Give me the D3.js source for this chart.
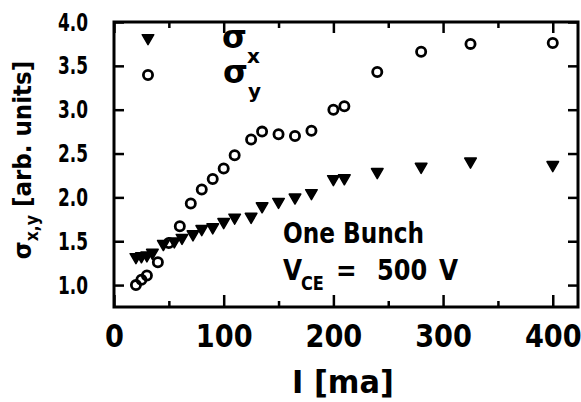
<!DOCTYPE html>
<html>
<head>
<meta charset="utf-8">
<script src="https://cdn.jsdelivr.net/npm/d3@7"></script>
<style>
body { margin: 0; background: #fff; }
svg text { font-family: "DejaVu Sans", sans-serif; font-weight: bold; fill: #000; }
</style>
</head>
<body>
<svg id="chart" width="581" height="402"></svg>
<script>
// current I [ma] and beam size sigma_x (triangles) / sigma_y (circles)
var sigmaXCurrent = [20, 25, 30, 35, 45, 55, 62, 72, 80, 90, 100, 110, 125, 135, 150, 165, 180, 200, 210, 240, 280, 325, 400];
var sigmaXValues  = [1.32, 1.33, 1.34, 1.37, 1.47, 1.50, 1.54, 1.58, 1.64, 1.66, 1.72, 1.77, 1.78, 1.90, 1.95, 2.00, 2.05, 2.21, 2.22, 2.29, 2.35, 2.41, 2.37];

var sigmaYCurrent = [20, 25, 30, 40, 50, 60, 70, 80, 90, 100, 110, 125, 135, 150, 165, 180, 200, 210, 240, 280, 325, 400];
var sigmaYValues  = [1.00, 1.06, 1.11, 1.26, 1.48, 1.67, 1.93, 2.09, 2.21, 2.33, 2.48, 2.66, 2.75, 2.72, 2.70, 2.76, 3.00, 3.04, 3.43, 3.66, 3.75, 3.76];

var xTickLabels = [0, 100, 200, 300, 400];
var xMinorTicks = [50, 150, 250, 350];
var yTickLabels = [1.0, 1.5, 2.0, 2.5, 3.0, 3.5, 4.0];

var svg = d3.select('#chart');
var margin = {top: 22, right: 3, bottom: 95, left: 114};
var width = +svg.attr('width') - margin.left - margin.right;
var height = +svg.attr('height') - margin.top - margin.bottom;

var x = d3.scaleLinear().domain([0, 423]).range([0, width]);
var y = d3.scaleLinear().domain([0.75, 4.0]).range([height, 0]);

var g = svg.append('g')
    .attr('transform', 'translate(' + margin.left + ',' + margin.top + ')');

function styleAxis(sel) {
    sel.select('.domain').remove();
    sel.selectAll('line').attr('stroke', '#000').attr('stroke-width', 2.5);
}

// narrow text: the original lettering is condensed
function narrowText(parent, px, py, size, sx, str) {
    return parent.append('text')
        .attr('transform', 'translate(' + px + ',' + py + ') scale(' + sx + ',1)')
        .style('font-size', size + 'px')
        .text(str);
}

// bottom axis with labels, ticks pointing inward
g.append('g')
    .attr('transform', 'translate(0,' + height + ')')
    .call(d3.axisBottom(x).tickValues(xTickLabels).tickSize(-12).tickPadding(17).tickFormat(d3.format('d')))
    .call(styleAxis)
    .selectAll('text')
    .style('font-size', '32px')
    .attr('transform', 'scale(0.85,1)');

g.append('g')
    .attr('transform', 'translate(0,' + height + ')')
    .call(d3.axisBottom(x).tickValues(xMinorTicks).tickSize(-6).tickFormat(''))
    .call(styleAxis);

// top axis ticks
g.append('g')
    .call(d3.axisTop(x).tickValues(xTickLabels).tickSize(-11).tickFormat(''))
    .call(styleAxis);
g.append('g')
    .call(d3.axisTop(x).tickValues(xMinorTicks).tickSize(-6).tickFormat(''))
    .call(styleAxis);

// left axis with labels
g.append('g')
    .call(d3.axisLeft(y).tickValues(yTickLabels).tickSize(-10).tickPadding(26).tickFormat(d3.format('.1f')))
    .call(styleAxis)
    .selectAll('text')
    .style('font-size', '25px')
    .attr('textLength', 30)
    .attr('lengthAdjust', 'spacingAndGlyphs');

// right axis ticks
g.append('g')
    .attr('transform', 'translate(' + width + ',0)')
    .call(d3.axisRight(y).tickValues(yTickLabels).tickSize(-10).tickFormat(''))
    .call(styleAxis);

// frame
g.append('rect')
    .attr('width', width)
    .attr('height', height)
    .attr('fill', 'none')
    .attr('stroke', '#000')
    .attr('stroke-width', 3);

var tri = d3.symbol().type(d3.symbolTriangle).size(58);

// sigma_x: filled down-triangles
g.selectAll('.sx')
    .data(sigmaXCurrent)
  .enter().append('path')
    .attr('class', 'sx')
    .attr('d', tri)
    .attr('fill', '#000')
    .attr('stroke', '#000')
    .attr('stroke-width', 1.5)
    .attr('stroke-linejoin', 'round')
    .attr('transform', function(d, i) { return 'translate(' + x(d) + ',' + y(sigmaXValues[i]) + ') rotate(180)'; });

// sigma_y: open circles
g.selectAll('.sy')
    .data(sigmaYCurrent)
  .enter().append('circle')
    .attr('class', 'sy')
    .attr('cx', function(d) { return x(d); })
    .attr('cy', function(d, i) { return y(sigmaYValues[i]); })
    .attr('r', 4.6)
    .attr('fill', 'none')
    .attr('stroke', '#000')
    .attr('stroke-width', 2.8);

// legend
var leg = g.append('g').attr('transform', 'translate(34,16)');
leg.append('path')
    .attr('d', tri)
    .attr('fill', '#000')
    .attr('stroke', '#000')
    .attr('stroke-width', 1.5)
    .attr('stroke-linejoin', 'round')
    .attr('transform', 'translate(0,0) rotate(180)');
leg.append('circle')
    .attr('cx', 0).attr('cy', 37).attr('r', 4.6)
    .attr('fill', 'none').attr('stroke', '#000').attr('stroke-width', 2.8);

var lx = leg.append('text').attr('x', 74).attr('y', 10).style('font-size', '32px');
lx.append('tspan').text('σ');
lx.append('tspan').attr('dy', 15).style('font-size', '20px').text('x');
var ly = leg.append('text').attr('x', 75).attr('y', 45).style('font-size', '32px');
ly.append('tspan').text('σ');
ly.append('tspan').attr('dy', 15).style('font-size', '20px').text('y');

// annotation
narrowText(svg, 283, 243, 29, 0.8, 'One Bunch');
narrowText(svg, 283, 280, 29, 0.85, 'V');
narrowText(svg, 301, 290, 19, 0.85, 'CE');
narrowText(svg, 336, 280, 29, 0.85, '=');
narrowText(svg, 377, 280, 29, 0.83, '500');
narrowText(svg, 439, 280, 29, 0.85, 'V');

// axis titles
svg.append('text')
    .attr('transform', 'translate(343,393) scale(0.95,1)')
    .attr('text-anchor', 'middle')
    .style('font-size', '32px')
    .text('I [ma]');

var yt = svg.append('text')
    .attr('transform', 'translate(31,160) rotate(-90) scale(0.92,1)')
    .attr('text-anchor', 'middle')
    .style('font-size', '25px');
yt.append('tspan').text('σ');
yt.append('tspan').attr('dy', 7).style('font-size', '17px').text('x,y');
yt.append('tspan').attr('dy', -7).text(' [arb. units]');
</script>
</body>
</html>
